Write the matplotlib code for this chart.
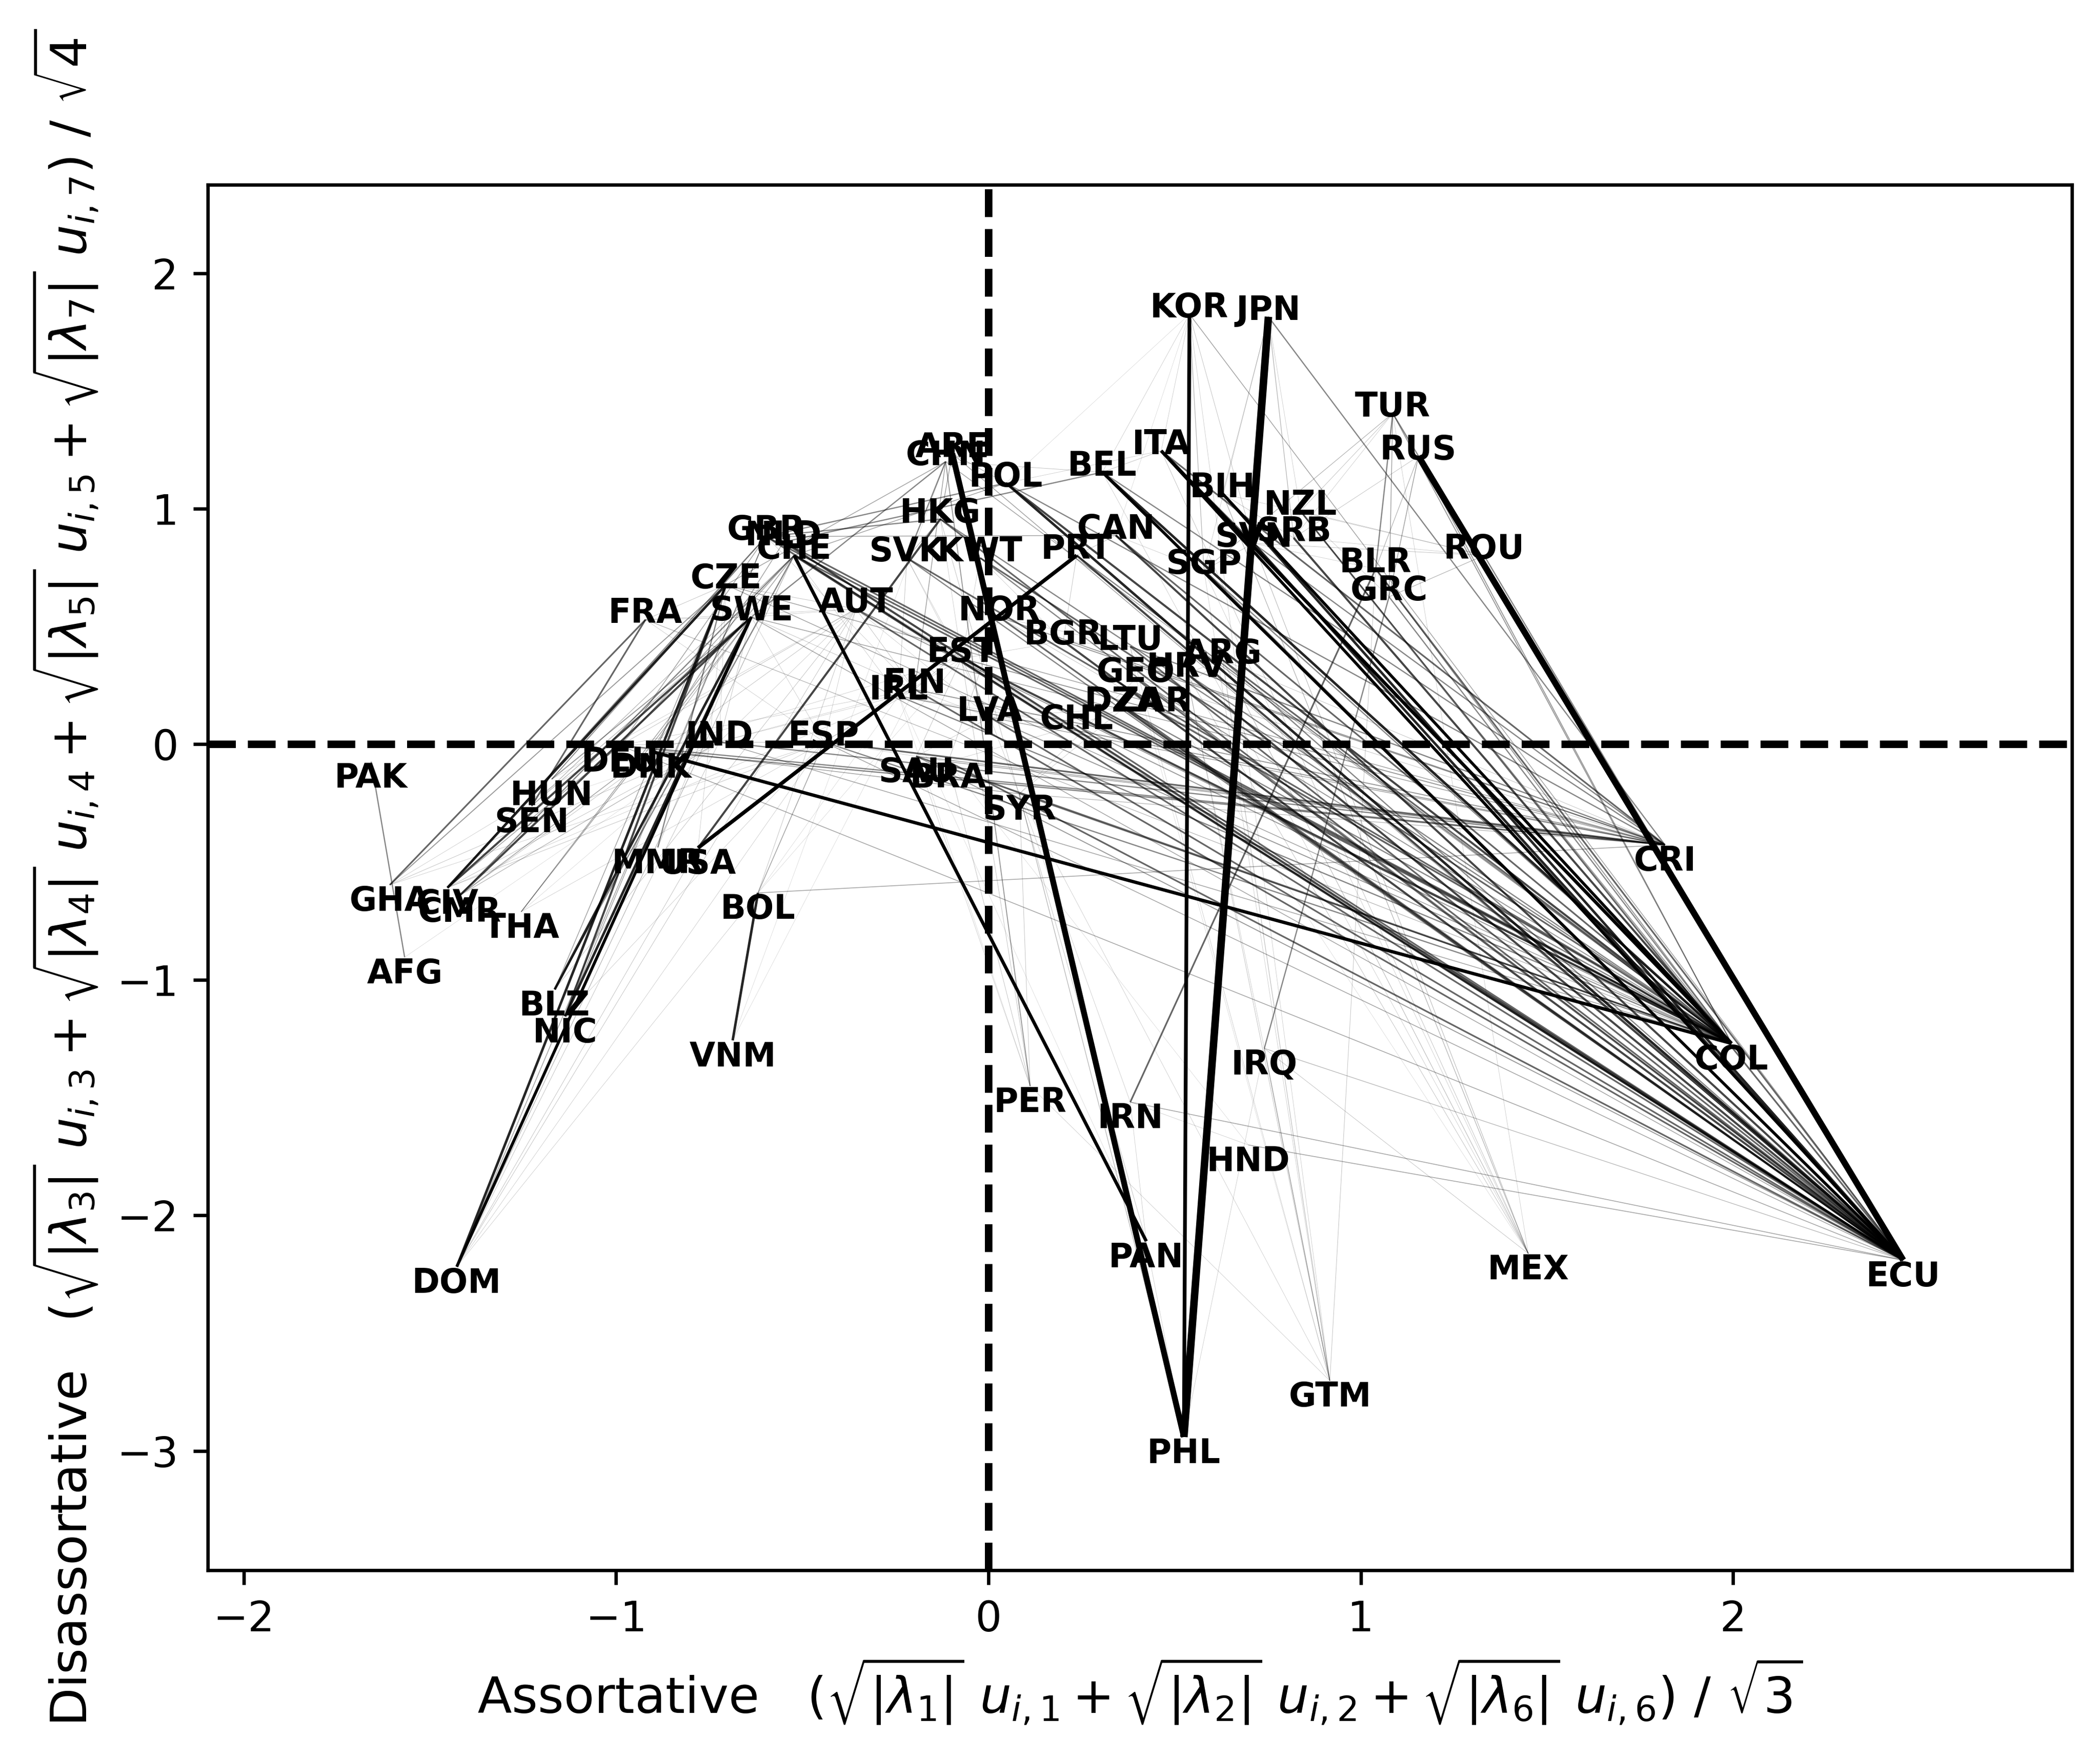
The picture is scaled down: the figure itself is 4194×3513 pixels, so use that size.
import numpy as np
import matplotlib.pyplot as plt

# Node positions (country codes) in the assortative / disassortative plane
countries = ['KOR', 'JPN', 'TUR', 'RUS', 'ITA', 'ARE', 'CHN', 'BEL', 'POL', 'BIH',
             'NZL', 'HKG', 'CAN', 'GBR', 'NLD', 'CHE', 'SRB', 'SVN', 'SVK', 'KWT',
             'PRT', 'SGP', 'BLR', 'ROU', 'CZE', 'GRC', 'AUT', 'FRA', 'SWE', 'NOR',
             'BGR', 'LTU', 'ARG', 'EST', 'HRV', 'GEO', 'FIN', 'IRL', 'DZA', 'ZAR',
             'LVA', 'CHL', 'IND', 'ESP', 'DEU', 'DNK', 'PAK', 'SAU', 'BRA', 'SYR',
             'HUN', 'SEN', 'MMR', 'USA', 'CRI', 'GHA', 'CIV', 'CMR', 'THA', 'BOL',
             'AFG', 'BLZ', 'NIC', 'COL', 'VNM', 'IRQ', 'PER', 'IRN', 'HND', 'PAN',
             'MEX', 'ECU', 'DOM', 'GTM', 'PHL']
x_coord = [0.540, 0.752, 1.086, 1.155, 0.464, -0.097, -0.115, 0.306, 0.047, 0.629,
           0.838, -0.129, 0.342, -0.597, -0.550, -0.522, 0.820, 0.712, -0.219, -0.022,
           0.237, 0.579, 1.040, 1.331, -0.705, 1.076, -0.356, -0.921, -0.637, 0.029,
           0.201, 0.381, 0.629, -0.072, 0.532, 0.396, -0.198, -0.241, 0.363, 0.442,
           0.004, 0.237, -0.723, -0.442, -0.989, -0.906, -1.658, -0.194, -0.108, 0.083,
           -1.173, -1.227, -0.888, -0.780, 1.817, -1.608, -1.453, -1.421, -1.255, -0.619,
           -1.568, -1.165, -1.137, 1.996, -0.687, 0.741, 0.112, 0.381, 0.698, 0.424,
           1.450, 2.457, -1.428, 0.917, 0.525]
y_coord = [1.826, 1.815, 1.405, 1.223, 1.246, 1.234, 1.200, 1.155, 1.109, 1.064,
           0.990, 0.956, 0.887, 0.882, 0.859, 0.802, 0.876, 0.853, 0.791, 0.791,
           0.802, 0.739, 0.745, 0.802, 0.677, 0.626, 0.575, 0.529, 0.540, 0.540,
           0.438, 0.415, 0.358, 0.364, 0.301, 0.279, 0.233, 0.205, 0.154, 0.154,
           0.114, 0.080, 0.010, 0.010, -0.005, -0.030, -0.074, -0.051, -0.074, -0.210,
           -0.148, -0.262, -0.438, -0.440, -0.427, -0.597, -0.609, -0.643, -0.711, -0.631,
           -0.904, -1.041, -1.155, -1.270, -1.257, -1.291, -1.451, -1.519, -1.701, -2.110,
           -2.162, -2.190, -2.218, -2.702, -2.941]

# Links between countries: (from, to, weight)
edges = [
    ('JPN', 'PHL', 0.90), ('ARE', 'PHL', 0.70), ('RUS', 'ECU', 0.75), ('KOR', 'PHL', 0.45),
    ('USA', 'PRT', 0.45), ('DNK', 'COL', 0.40), ('CHE', 'PAN', 0.40), ('ITA', 'COL', 0.40),
    ('ITA', 'ECU', 0.35), ('BIH', 'COL', 0.35), ('BEL', 'ECU', 0.35), ('BEL', 'COL', 0.30),
    ('POL', 'ECU', 0.30), ('POL', 'COL', 0.25), ('CAN', 'ECU', 0.25), ('PRT', 'ECU', 0.25),
    ('SVN', 'ECU', 0.30), ('SRB', 'COL', 0.25), ('BIH', 'ECU', 0.30), ('NZL', 'ECU', 0.20),
    ('SGP', 'ECU', 0.20), ('BGR', 'ECU', 0.25), ('LTU', 'ECU', 0.20), ('HRV', 'ECU', 0.25),
    ('GEO', 'ECU', 0.20), ('ARG', 'COL', 0.20), ('DZA', 'ECU', 0.25), ('ZAR', 'COL', 0.20),
    ('CHL', 'ECU', 0.20), ('LVA', 'ECU', 0.20), ('EST', 'COL', 0.25), ('NOR', 'ECU', 0.20),
    ('KWT', 'COL', 0.20), ('HKG', 'ECU', 0.20), ('NLD', 'ECU', 0.25), ('GBR', 'COL', 0.20),
    ('AUT', 'ECU', 0.20), ('SVK', 'COL', 0.20), ('FIN', 'ECU', 0.20), ('IRL', 'COL', 0.15),
    ('ESP', 'CRI', 0.20), ('IND', 'CRI', 0.15), ('DEU', 'CRI', 0.15), ('SAU', 'COL', 0.20),
    ('BRA', 'ECU', 0.20), ('SYR', 'COL', 0.15), ('CZE', 'CRI', 0.10), ('SWE', 'CRI', 0.10),
    ('BLR', 'ECU', 0.20), ('GRC', 'COL', 0.15), ('ROU', 'ECU', 0.15), ('TUR', 'ECU', 0.15),
    ('ITA', 'CRI', 0.20), ('BEL', 'CRI', 0.15), ('POL', 'CRI', 0.15), ('KOR', 'ECU', 0.10),
    ('JPN', 'CRI', 0.15), ('SVN', 'CRI', 0.15), ('LTU', 'CRI', 0.15), ('BGR', 'CRI', 0.12),
    ('NOR', 'CRI', 0.12), ('CAN', 'COL', 0.20), ('PRT', 'COL', 0.15), ('SGP', 'COL', 0.15),
    ('NZL', 'COL', 0.12), ('HRV', 'COL', 0.15), ('GEO', 'COL', 0.12), ('DZA', 'COL', 0.15),
    ('CHL', 'COL', 0.12), ('LVA', 'COL', 0.12), ('ARG', 'ECU', 0.15), ('TUR', 'COL', 0.12),
    ('RUS', 'COL', 0.12), ('BLR', 'COL', 0.12), ('CHE', 'ECU', 0.25), ('AUT', 'COL', 0.12),
    ('ITA', 'MEX', 0.06), ('BEL', 'MEX', 0.05), ('BIH', 'MEX', 0.08), ('SVN', 'MEX', 0.07),
    ('HRV', 'MEX', 0.06), ('ARG', 'MEX', 0.07), ('IRQ', 'MEX', 0.06), ('TUR', 'MEX', 0.05),
    ('GTM', 'ARG', 0.07), ('GTM', 'HRV', 0.06), ('GTM', 'SGP', 0.05), ('GTM', 'BLR', 0.06),
    ('GTM', 'LTU', 0.05), ('GTM', 'SYR', 0.05), ('GTM', 'PER', 0.05), ('GTM', 'KOR', 0.05),
    ('GTM', 'IRQ', 0.10), ('PHL', 'SYR', 0.08), ('PHL', 'PAN', 0.05), ('PHL', 'IRQ', 0.05),
    ('DOM', 'SWE', 0.35), ('DOM', 'CZE', 0.30), ('DOM', 'CHE', 0.08), ('DOM', 'AUT', 0.06),
    ('DOM', 'IND', 0.06), ('DOM', 'USA', 0.06), ('DOM', 'BOL', 0.05), ('DOM', 'ESP', 0.05),
    ('DOM', 'GBR', 0.10), ('BLZ', 'SWE', 0.30), ('BLZ', 'CHE', 0.15), ('BLZ', 'CZE', 0.10),
    ('BLZ', 'AUT', 0.06), ('NIC', 'SWE', 0.30), ('NIC', 'CZE', 0.25), ('NIC', 'GBR', 0.10),
    ('NIC', 'ESP', 0.05), ('GHA', 'FRA', 0.20), ('GHA', 'CZE', 0.12), ('GHA', 'IND', 0.06),
    ('GHA', 'ESP', 0.05), ('GHA', 'DEU', 0.05), ('CIV', 'CZE', 0.30), ('CIV', 'SWE', 0.25),
    ('CIV', 'GBR', 0.15), ('CIV', 'DEU', 0.10), ('CIV', 'IND', 0.06), ('CIV', 'ESP', 0.06),
    ('CIV', 'FIN', 0.05), ('CMR', 'SWE', 0.25), ('CMR', 'CHE', 0.15), ('CMR', 'DNK', 0.10),
    ('CMR', 'IND', 0.08), ('CMR', 'AUT', 0.06), ('THA', 'CHE', 0.10), ('THA', 'SWE', 0.10),
    ('THA', 'ESP', 0.05), ('AFG', 'PAK', 0.15), ('AFG', 'IND', 0.04), ('HUN', 'CZE', 0.10),
    ('HUN', 'SWE', 0.12), ('HUN', 'GBR', 0.08), ('SEN', 'FRA', 0.20), ('SEN', 'SWE', 0.08),
    ('SEN', 'CHE', 0.08), ('BOL', 'VNM', 0.30), ('BOL', 'CRI', 0.10), ('BOL', 'ESP', 0.10),
    ('BOL', 'AUT', 0.06), ('VNM', 'CHN', 0.04), ('MMR', 'CZE', 0.15), ('USA', 'HKG', 0.25),
    ('IRN', 'BLR', 0.20), ('IRQ', 'GRC', 0.15), ('IRN', 'PAN', 0.05), ('PER', 'CHN', 0.12),
    ('PER', 'SYR', 0.06), ('PER', 'BRA', 0.06), ('PER', 'EST', 0.06), ('HND', 'IRN', 0.05),
    ('HND', 'ECU', 0.10), ('IRN', 'ECU', 0.10), ('IRQ', 'ECU', 0.08), ('PAN', 'HKG', 0.06),
    ('KOR', 'BEL', 0.05), ('KOR', 'ITA', 0.05), ('KOR', 'SGP', 0.08), ('KOR', 'SVN', 0.06),
    ('KOR', 'POL', 0.04), ('JPN', 'SRB', 0.08), ('JPN', 'BIH', 0.06), ('JPN', 'NZL', 0.05),
    ('TUR', 'NZL', 0.06), ('TUR', 'SGP', 0.08), ('TUR', 'BLR', 0.15), ('TUR', 'GRC', 0.10),
    ('RUS', 'BLR', 0.08), ('RUS', 'GRC', 0.10), ('RUS', 'SRB', 0.06), ('ROU', 'GRC', 0.08),
    ('ROU', 'SVN', 0.06), ('ROU', 'BIH', 0.05), ('ROU', 'NZL', 0.06), ('ITA', 'BEL', 0.06),
    ('ITA', 'POL', 0.05), ('ITA', 'SVN', 0.20), ('GBR', 'POL', 0.15), ('NLD', 'BEL', 0.15),
    ('GBR', 'CAN', 0.10), ('CHE', 'POL', 0.10), ('HKG', 'SVK', 0.08), ('HKG', 'GBR', 0.15),
    ('ARE', 'HKG', 0.10), ('CHN', 'SVK', 0.15), ('CHN', 'SWE', 0.15), ('CHN', 'CZE', 0.10),
    ('ARE', 'KWT', 0.06), ('CHN', 'FIN', 0.10), ('ARE', 'POL', 0.08), ('CHN', 'BEL', 0.06),
    ('FRA', 'CZE', 0.06), ('FRA', 'SWE', 0.06), ('FRA', 'AUT', 0.05), ('FRA', 'ESP', 0.05),
    ('SWE', 'AUT', 0.05), ('SWE', 'FIN', 0.06), ('CZE', 'AUT', 0.06), ('AUT', 'FIN', 0.06),
    ('AUT', 'EST', 0.05), ('AUT', 'ESP', 0.05), ('SVK', 'IRL', 0.06), ('SVK', 'EST', 0.05),
    ('KWT', 'EST', 0.05), ('KWT', 'LVA', 0.06), ('NOR', 'FIN', 0.06), ('EST', 'LVA', 0.06),
    ('BGR', 'LTU', 0.05), ('BGR', 'PRT', 0.06), ('LTU', 'GEO', 0.05), ('GEO', 'HRV', 0.05),
    ('ARG', 'HRV', 0.05), ('DZA', 'CHL', 0.05), ('ZAR', 'ARG', 0.05), ('CHL', 'LVA', 0.05),
    ('CAN', 'PRT', 0.06), ('CAN', 'SGP', 0.05), ('SGP', 'SVN', 0.06), ('BIH', 'SRB', 0.06),
    ('SRB', 'NZL', 0.05), ('BLR', 'GRC', 0.05), ('ESP', 'IND', 0.06), ('ESP', 'SAU', 0.05),
    ('IND', 'DEU', 0.06), ('DEU', 'DNK', 0.05), ('DEU', 'GBR', 0.10), ('DNK', 'NLD', 0.10),
    ('DEU', 'CHE', 0.10), ('DNK', 'SWE', 0.08), ('IND', 'SWE', 0.06), ('IND', 'FIN', 0.05),
    ('SAU', 'BRA', 0.06), ('BRA', 'SYR', 0.06), ('SYR', 'LVA', 0.05), ('SAU', 'EST', 0.06),
    ('BRA', 'NOR', 0.06), ('ESP', 'FIN', 0.05), ('DEU', 'AUT', 0.06), ('IND', 'AUT', 0.05),
    ('DEU', 'SYR', 0.10), ('DNK', 'CRI', 0.15), ('DEU', 'ECU', 0.10), ('IND', 'COL', 0.10),
    ('ESP', 'COL', 0.15), ('ESP', 'ECU', 0.10), ('FIN', 'CRI', 0.12), ('IRL', 'CRI', 0.12),
    ('EST', 'CRI', 0.12), ('LVA', 'CRI', 0.10), ('SAU', 'CRI', 0.10), ('BRA', 'CRI', 0.10),
    ('SYR', 'CRI', 0.08), ('SAU', 'ECU', 0.12), ('GBR', 'ECU', 0.20), ('NLD', 'COL', 0.20),
    ('CHE', 'COL', 0.20), ('CZE', 'COL', 0.10), ('SWE', 'ECU', 0.10), ('HKG', 'COL', 0.15),
    ('KWT', 'ECU', 0.15), ('SVK', 'ECU', 0.15), ('CHN', 'COL', 0.10), ('ARE', 'ECU', 0.10),
    ('FRA', 'COL', 0.08),
    ('SWE', 'ESP', 0.05), ('CZE', 'IND', 0.05), ('GBR', 'FIN', 0.05), ('NLD', 'IRL', 0.05),
    ('CHE', 'EST', 0.06), ('AUT', 'LVA', 0.05), ('SVK', 'LVA', 0.05), ('HKG', 'EST', 0.05),
    ('KWT', 'BGR', 0.05), ('NOR', 'LTU', 0.05), ('EST', 'BGR', 0.05), ('FIN', 'LVA', 0.05),
    ('IRL', 'CHL', 0.05), ('LVA', 'DZA', 0.05), ('SAU', 'LVA', 0.05), ('BRA', 'CHL', 0.05),
    ('SYR', 'DZA', 0.05), ('SYR', 'GEO', 0.05), ('ESP', 'EST', 0.05), ('IND', 'IRL', 0.05),
    ('DEU', 'FIN', 0.05), ('DNK', 'EST', 0.05), ('MMR', 'SWE', 0.06), ('USA', 'CZE', 0.05),
    ('BOL', 'EST', 0.04), ('BOL', 'IRL', 0.04), ('VNM', 'FIN', 0.04), ('THA', 'IND', 0.04),
    ('HUN', 'AUT', 0.05), ('SEN', 'IND', 0.04), ('PER', 'IRL', 0.04), ('PER', 'SAU', 0.05),
    ('IRN', 'SYR', 0.05), ('HND', 'BRA', 0.04), ('PAN', 'IRL', 0.04), ('GTM', 'GEO', 0.04),
    ('MEX', 'SGP', 0.05), ('MEX', 'LTU', 0.04), ('IRQ', 'HRV', 0.05), ('CRI', 'GEO', 0.06),
    ('CRI', 'ARG', 0.06), ('COL', 'NOR', 0.06), ('ECU', 'EST', 0.06), ('KOR', 'CAN', 0.04),
    ('JPN', 'SGP', 0.05), ('TUR', 'SRB', 0.05), ('ROU', 'SRB', 0.05), ('BLR', 'SVN', 0.05),
    ('GRC', 'NZL', 0.05),
]

pos = {c: (x, y) for c, x, y in zip(countries, x_coord, y_coord)}

fig = plt.figure(figsize=(4194 / 600, 3513 / 600), dpi=600)
ax = fig.add_axes([0.0989, 0.1074, 0.8877, 0.7875])

# draw the links, light ones first so the heavy ones stay on top
for a, b, w in sorted(edges, key=lambda e: e[2]):
    xa, ya = pos[a]
    xb, yb = pos[b]
    ax.plot([xa, xb], [ya, yb], color='black', linewidth=2.0 * w,
            alpha=min(1.0, 0.08 + 2.6 * w), solid_capstyle='butt', zorder=1)

# quadrant lines
ax.axvline(0, color='black', linestyle='--', linewidth=1.8, zorder=2)
ax.axhline(0, color='black', linestyle='--', linewidth=1.8, zorder=2)

# country labels, above the node in the upper half, below it in the lower half
for c, x, y in zip(countries, x_coord, y_coord):
    if y >= 0:
        ax.annotate(c, (x, y), xytext=(0, -2.5), textcoords='offset points',
                    ha='center', va='bottom', fontsize=8, fontweight='bold', zorder=3)
    else:
        ax.annotate(c, (x, y), xytext=(0, 0), textcoords='offset points',
                    ha='center', va='top', fontsize=8, fontweight='bold', zorder=3)

ax.set_xlim(-2.097, 2.91)
ax.set_ylim(-3.506, 2.375)
ax.set_xticks([-2, -1, 0, 1, 2])
ax.set_yticks([-3, -2, -1, 0, 1, 2])
ax.tick_params(labelsize=10)
ax.set_xlabel(r'Assortative   $(\sqrt{|\lambda_1|}\ u_{i,1} + \sqrt{|\lambda_2|}\ u_{i,2}'
              r' + \sqrt{|\lambda_6|}\ u_{i,6})\ /\ \sqrt{3}$', fontsize=12)
ax.set_ylabel(r'Disassortative   $(\sqrt{|\lambda_3|}\ u_{i,3} + \sqrt{|\lambda_4|}\ u_{i,4}'
              r' + \sqrt{|\lambda_5|}\ u_{i,5} + \sqrt{|\lambda_7|}\ u_{i,7})\ /\ \sqrt{4}$',
              fontsize=12)

plt.savefig('out.png', dpi=600)
